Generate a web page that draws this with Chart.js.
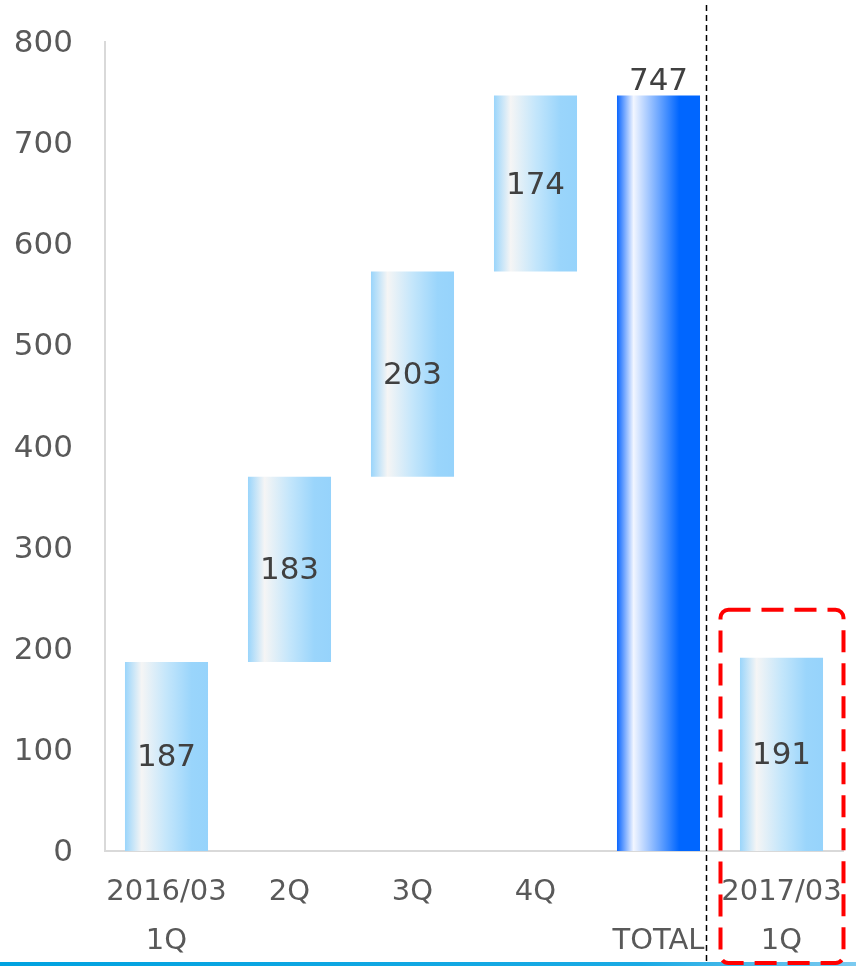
<!DOCTYPE html>
<html><head><meta charset="utf-8">
<script src="https://cdn.jsdelivr.net/npm/chart.js@4/dist/chart.umd.min.js"></script>
<style>html,body{margin:0;padding:0;background:#fff}#wrap{width:856px;height:966px}</style>
</head><body><div id="wrap"><canvas id="c" width="856" height="966"></canvas></div>
<script>
const categories = [['2016/03','1Q'], '2Q', '3Q', '4Q', ['', 'TOTAL'], ['2017/03','1Q']];
const values = [187, 183, 203, 174, 747, 191];
const kinds = ['step', 'step', 'step', 'step', 'total', 'single'];
const yTicks = [0, 100, 200, 300, 400, 500, 600, 700, 800];

// floating ranges for the waterfall
let running = 0;
const ranges = values.map((v, i) => {
  if (kinds[i] === 'step') { const r = [running, running + v]; running += v; return r; }
  return [0, v];
});

const CAT_PCT = 0.9, BAR_PCT = 0.75;
const FONT = 'DejaVu Sans, Verdana, sans-serif';

function barGeom(chart, i) {
  const xs = chart.scales.x;
  const w = (xs.width / categories.length) * CAT_PCT * BAR_PCT;
  const cx = xs.getPixelForValue(i);
  return { left: cx - w / 2, right: cx + w / 2, cx, w };
}

function fillFor(context) {
  const chart = context.chart;
  if (!chart.chartArea || !chart.scales.x) return '#99d5fb';
  const i = context.dataIndex;
  const g = barGeom(chart, i);
  const grad = chart.ctx.createLinearGradient(g.left, 0, g.right, 0);
  if (kinds[i] === 'total') {
    grad.addColorStop(0, '#0a66ff');
    grad.addColorStop(0.2, '#f2f6ff');
    grad.addColorStop(0.75, '#0066ff');
    grad.addColorStop(1, '#0066ff');
  } else {
    grad.addColorStop(0, '#9ad5fb');
    grad.addColorStop(0.2, '#f5f5f5');
    grad.addColorStop(0.5, '#c4e6fb');
    grad.addColorStop(0.8, '#9ad5fb');
    grad.addColorStop(1, '#96d3fb');
  }
  return grad;
}

const decor = {
  id: 'decor',
  afterDatasetsDraw(chart) {
    const ctx = chart.ctx;
    const ys = chart.scales.y;
    ctx.save();
    ctx.font = '31px ' + FONT;
    ctx.fillStyle = '#404040';
    ctx.textAlign = 'center';
    values.forEach((v, i) => {
      const g = barGeom(chart, i);
      const top = ys.getPixelForValue(ranges[i][1]);
      const bot = ys.getPixelForValue(ranges[i][0]);
      if (kinds[i] === 'total') {
        ctx.textBaseline = 'alphabetic';
        ctx.fillText(String(v), g.cx, top - 6);
      } else {
        ctx.textBaseline = 'middle';
        ctx.fillText(String(v), g.cx, (top + bot) / 2 + 2);
      }
    });
    ctx.restore();
  },
  afterDraw(chart) {
    const ctx = chart.ctx;
    const ys = chart.scales.y;
    const ca = chart.chartArea;
    const H = chart.height, W = chart.width;
    // dashed separator
    const tot = barGeom(chart, 4);
    const sx = Math.round(tot.right + 5.5) + 0.5;
    ctx.save();
    ctx.strokeStyle = '#000';
    ctx.lineWidth = 1.5;
    ctx.setLineDash([6, 4]);
    ctx.beginPath();
    ctx.moveTo(sx, ca.top - 37);
    ctx.lineTo(sx, H);
    ctx.stroke();
    ctx.restore();
    // bottom blue line
    ctx.save();
    const bg = ctx.createLinearGradient(0, 0, W, 0);
    bg.addColorStop(0, '#00a2e0');
    bg.addColorStop(0.75, '#1aaae4');
    bg.addColorStop(1, '#7ccaf0');
    ctx.fillStyle = bg;
    ctx.fillRect(0, H - 4, W, 4);
    ctx.restore();
    // red dashed box around last period
    const last = barGeom(chart, 5);
    const bx = last.cx - 61, bw = 123;
    const by = ys.getPixelForValue(ranges[5][1]) - 48;
    const bh = H - 3 - by;
    ctx.save();
    ctx.strokeStyle = '#ff0000';
    ctx.lineWidth = 4;
    ctx.setLineDash([22, 11]);
    ctx.beginPath();
    ctx.roundRect(bx, by, bw, bh, 8);
    ctx.stroke();
    ctx.restore();
  }
};

new Chart(document.getElementById('c'), {
  type: 'bar',
  data: {
    labels: categories,
    datasets: [{
      data: ranges,
      backgroundColor: fillFor,
      borderWidth: 0,
      borderSkipped: false,
      categoryPercentage: CAT_PCT,
      barPercentage: BAR_PCT
    }]
  },
  options: {
    responsive: false,
    animation: false,
    layout: { padding: { left: 13, right: 13, top: 42, bottom: 0 } },
    plugins: { legend: { display: false }, tooltip: { enabled: false } },
    scales: {
      x: {
        grid: { display: false, drawTicks: false },
        border: { display: true, color: '#d9d9d9', width: 2 },
        ticks: { color: '#595959', font: { family: FONT, size: 29, lineHeight: 1.7 }, padding: 17, maxRotation: 0, autoSkip: false },
        afterFit(scale) { scale.paddingLeft = 0; scale.paddingRight = 0; scale.height = 115; }
      },
      y: {
        min: 0, max: 800,
        afterBuildTicks(scale) { scale.ticks = yTicks.map(v => ({ value: v })); },
        grid: { display: false, drawTicks: false },
        border: { display: true, color: '#d9d9d9', width: 2 },
        ticks: { color: '#595959', font: { family: FONT, size: 31 }, padding: 32, labelOffset: 2 },
        afterFit(scale) { scale.width = 92; scale.paddingTop = 0; scale.paddingBottom = 0; }
      }
    }
  },
  plugins: [decor]
});
</script>
</body></html>
